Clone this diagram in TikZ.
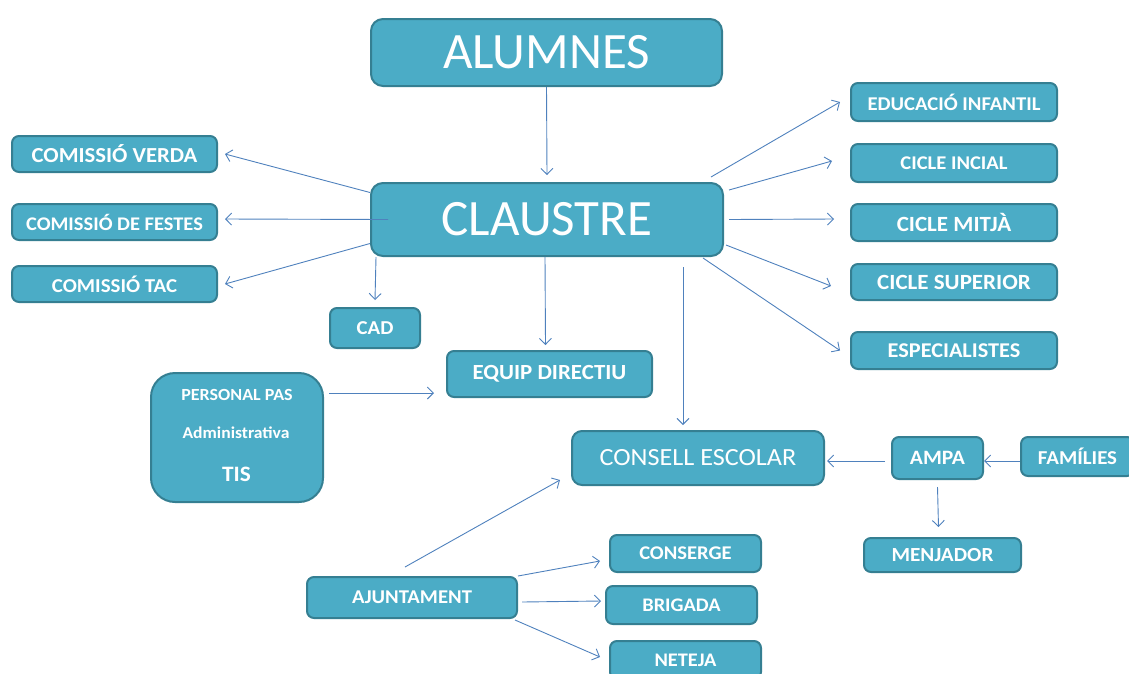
\documentclass[tikz,border=0pt]{standalone}
\usepackage{fontspec}
\setmainfont{Carlito}
\newfontfamily\widefont{Carlito}[FakeStretch=1.06]
\usetikzlibrary{arrows.meta}
\definecolor{boxfill}{HTML}{4BACC6}
\definecolor{boxline}{HTML}{357F92}
\definecolor{arr}{HTML}{4F81BD}
\newcommand{\fs}[1]{\fontsize{#1}{#1}\selectfont}
\tikzset{
  box/.style={draw=boxline, fill=boxfill, line width=2pt, rounded corners=7pt,
    text=white, inner sep=0pt, font=\widefont\bfseries\fs{20}},
  fsz/.style={font=\widefont\bfseries\fs{#1}},
  bigbox/.style={box, rounded corners=12pt, font=\fs{51}},
  lbl/.style={text=white, inner sep=0pt},
  conn/.style={draw=arr, line width=0.9pt, -{Straight Barb[length=6pt,width=12pt]}}
}
\begin{document}
\begin{tikzpicture}[x=1pt,y=-1pt]
\useasboundingbox (0,0) rectangle (1129,673);
\clip (0,0) rectangle (1129,673);
% nodes
\node[bigbox, minimum width=351pt, minimum height=67pt] (alumnes) at (546.5,52.5) {ALUMNES};
\node[bigbox, minimum width=352pt, minimum height=73pt] (claustre) at (547,219.5) {CLAUSTRE};
\node[box, fsz=21.4, minimum width=205pt, minimum height=36pt] (verda) at (114.5,154) {COMISSIÓ VERDA};
\node[box, fsz=19.3, minimum width=205pt, minimum height=36pt] (festes) at (114.5,222) {COMISSIÓ DE FESTES};
\node[box, fsz=19.7, minimum width=205pt, minimum height=36pt] (tac) at (114.5,284) {COMISSIÓ TAC};
\node[box, fsz=19.7, minimum width=90pt, minimum height=40pt] (cad) at (375,328) {CAD};
\node[box, fsz=21.6, minimum width=205pt, minimum height=46pt] (equip) at (549.5,374) {EQUIP DIRECTIU};
\node[box, rounded corners=24pt, minimum width=172pt, minimum height=129pt] (personal) at (237,437.5) {};
\node[lbl, fsz=17] (pas) at (237,395) {PERSONAL PAS};
\node[lbl, fsz=16.6] (admin) at (236,433) {Administrativa};
\node[lbl, fsz=22] (tis) at (236.5,474) {TIS};
\node[box, rounded corners=10pt, minimum width=252pt, minimum height=54pt, font=\widefont\fs{24.7}] (consell) at (698,458) {CONSELL ESCOLAR};
\node[box, fsz=20.4, minimum width=91pt, minimum height=42pt] (ampa) at (937.5,458) {AMPA};
\node[box, fsz=19.7, minimum width=113pt, minimum height=39pt] (families) at (1077.5,456.5) {FAMÍLIES};
\node[box, fsz=20, minimum width=157pt, minimum height=34pt] (menjador) at (942.5,555) {MENJADOR};
\node[box, fsz=19.5, minimum width=210pt, minimum height=41pt] (ajuntament) at (412,597.5) {AJUNTAMENT};
\node[box, fsz=19.4, minimum width=151pt, minimum height=37pt] (conserge) at (685.5,553.5) {CONSERGE};
\node[box, fsz=19.2, minimum width=151pt, minimum height=38pt] (brigada) at (681.5,605) {BRIGADA};
\node[box, fsz=19.2, minimum width=151pt, minimum height=38pt] (neteja) at (685.5,660) {NETEJA};
\node[box, fsz=19.5, minimum width=206pt, minimum height=38pt] (edu) at (954,102) {EDUCACIÓ INFANTIL};
\node[box, fsz=19.4, minimum width=206pt, minimum height=38pt] (incial) at (954,163) {CICLE INCIAL};
\node[box, fsz=21.7, minimum width=206pt, minimum height=37pt] (mitja) at (954,222.5) {CICLE MITJÀ};
\node[box, fsz=21.7, minimum width=206pt, minimum height=36pt] (superior) at (954,282) {CICLE SUPERIOR};
\node[box, fsz=21, minimum width=206pt, minimum height=37pt] (espec) at (954,350.5) {ESPECIALISTES};
% connectors
\draw[conn] (alumnes.south) -- ([yshift=7pt]claustre.north);
\draw[conn] ([yshift=27pt]claustre.west) -- ([xshift=7pt]verda.east);
\draw[conn] ([xshift=18pt]claustre.west) -- ([xshift=7pt,yshift=3pt]festes.east);
\draw[conn] ([yshift=-24pt]claustre.west) -- ([xshift=7pt]tac.east);
\draw[conn] ([xshift=6pt]claustre.south west) -- ([yshift=7pt]cad.north);
\draw[conn] ([xshift=-2pt]claustre.south) -- ([xshift=-4pt,yshift=5pt]equip.north);
\draw[conn] ([xshift=-41pt,yshift=-10pt]claustre.south east) -- ([xshift=-15pt,yshift=5pt]consell.north);
\draw[conn] ([xshift=-13pt,yshift=5pt]claustre.north east) -- ([xshift=-10pt]edu.west);
\draw[conn] ([xshift=5pt,yshift=-8pt]claustre.north east) -- ([xshift=-18pt,yshift=2pt]incial.west);
\draw[conn] ([xshift=5pt]claustre.east) -- ([xshift=-16pt,yshift=3.5pt]mitja.west);
\draw[conn] ([xshift=2pt,yshift=12pt]claustre.south east) -- ([xshift=-19pt,yshift=-4pt]superior.west);
\draw[conn] ([xshift=-21pt,yshift=-1pt]claustre.south east) -- ([xshift=-10pt]espec.west);
\draw[conn] ([xshift=5pt,yshift=-21pt]personal.north east) -- ([xshift=-12pt,yshift=-19pt]equip.west);
\draw[conn] ([xshift=-6pt,yshift=-3pt]ampa.west) -- ([xshift=2pt,yshift=-3pt]consell.east);
\draw[conn] ([yshift=-4.5pt]families.west) -- ([yshift=-3pt]ampa.east);
\draw[conn] ([yshift=-7pt]ampa.south) -- ([xshift=-4pt,yshift=10pt]menjador.north);
\draw[conn] ([xshift=-7pt,yshift=9pt]ajuntament.north) -- ([xshift=-11pt,yshift=6pt]consell.south west);
\draw[conn] (ajuntament.north east) -- ([xshift=-9pt,yshift=-7.5pt]conserge.west);
\draw[conn] ([xshift=4pt,yshift=-4.5pt]ajuntament.east) -- ([xshift=-4pt,yshift=4pt]brigada.west);
\draw[conn] ([xshift=-3pt,yshift=-1pt]ajuntament.south east) -- ([xshift=-9pt,yshift=3pt]neteja.west);
\end{tikzpicture}
\end{document}
